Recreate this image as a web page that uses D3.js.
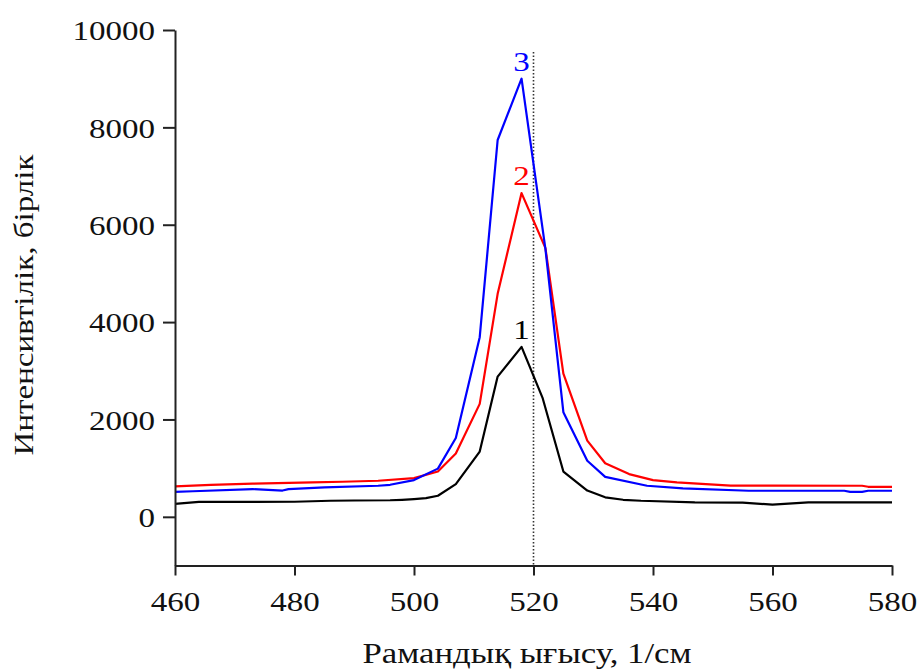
<!DOCTYPE html>
<html>
<head>
<meta charset="utf-8">
<script src="https://cdn.jsdelivr.net/npm/d3@7/dist/d3.min.js"></script>
<style>
html,body{margin:0;padding:0;background:#fff;}
text{font-family:"Liberation Serif","Times New Roman",serif;}
</style>
</head>
<body>
<svg id="chart" width="921" height="670"></svg>
<script>
// ---- data ----
const xTicksMajor = [460, 480, 500, 520, 540, 560, 580];
const yTicksMajor = [0, 2000, 4000, 6000, 8000, 10000];
const xLabel = "Рамандық ығысу, 1/см";
const yLabel = "Интенсивтілік, бірлік";
const refLine = 520;

const s1x = [460,464,470,480,486,490,496,498,500,502,504,507,511,514,518,521.5,525,529,532,535,538,547,555,560,566,580];
const s1y = [265,305,305,310,330,335,340,350,365,385,432,673,1340,2880,3490,2450,930,540,400,350,330,295,290,250,295,295];

const s2x = [460,466,473,483,488,494,500,504,507,511,514,518,522,525,529,532,536,540,544,553,560,575,576,580];
const s2y = [624,658,680,706,720,741,796,930,1300,2320,4580,6650,5520,2940,1564,1100,878,755,706,640,640,638,617,617];

const s3x = [460,463,473,478,479,485,494,496,500,504,507,511,514,518,522,525,529,532,539,545,556,572,573,575,576,580];
const s3y = [514,525,570,540,570,603,638,658,755,990,1620,3690,7740,9000,5500,2150,1152,820,638,583,535,535,514,514,535,535];

const seriesNames = ["1", "2", "3"];
const seriesColors = ["#000000", "#ff0000", "#0000ff"];

// ---- layout ----
const svg = d3.select("#chart");
const x = d3.scaleLinear().domain([460, 580]).range([175, 892]);
const y = d3.scaleLinear().domain([-1000, 10000]).range([565.5, 30]);
const SX = 1.18;

const series = [
  {name: seriesNames[0], color: seriesColors[0], pts: s1x.map((v,i)=>[v, s1y[i]])},
  {name: seriesNames[1], color: seriesColors[1], pts: s2x.map((v,i)=>[v, s2y[i]])},
  {name: seriesNames[2], color: seriesColors[2], pts: s3x.map((v,i)=>[v, s3y[i]])}
];
const line = d3.line().x(d=>x(d[0])).y(d=>y(d[1]));

// reference dotted line
svg.append("line")
  .attr("x1", x(refLine)).attr("x2", x(refLine))
  .attr("y1", 52).attr("y2", y(-1000))
  .attr("stroke", "#333").attr("stroke-width", 1.6)
  .attr("stroke-dasharray", "1.5,2");

series.forEach(s => {
  svg.append("path").datum(s.pts)
    .attr("d", line).attr("fill", "none")
    .attr("stroke", s.color).attr("stroke-width", 2.2)
    .attr("stroke-linejoin", "round");
});

// series labels
series.forEach(s => {
  const pk = s.pts.reduce((a,b)=> b[1] > a[1] ? b : a);
  svg.append("text")
    .attr("transform", `translate(${x(pk[0])},${y(pk[1]) - 8}) scale(${SX},1)`)
    .attr("text-anchor", "middle")
    .attr("font-size", 28)
    .attr("fill", s.color)
    .text(s.name);
});

// axes
const xMinor = d3.range(470, 580, 20);
const yMinor = d3.range(1000, 10000, 2000);

const gx = svg.append("g").attr("transform", `translate(0,${y(-1000)})`);
gx.call(d3.axisBottom(x).tickValues(xMinor).tickSize(7).tickFormat(""));
gx.call(d3.axisBottom(x).tickValues(xTicksMajor).tickSize(10).tickSizeOuter(0).tickFormat(d3.format("d")));
gx.selectAll("path.domain").attr("stroke", "#222").attr("stroke-width", 2);
gx.selectAll("line").attr("stroke", "#222").attr("stroke-width", 2);
gx.selectAll("text")
  .attr("y", 46).attr("dy", null)
  .attr("transform", `scale(${SX},1)`)
  .attr("font-size", 28).attr("fill", "#111")
  .attr("font-family", "Liberation Serif, Times New Roman, serif");

const gy = svg.append("g").attr("transform", `translate(${x(460)},0)`);
gy.call(d3.axisLeft(y).tickValues(yMinor).tickSize(6).tickFormat(""));
gy.call(d3.axisLeft(y).tickValues(yTicksMajor).tickSize(12).tickSizeOuter(0).tickFormat(d3.format("d")));
gy.selectAll("path.domain").attr("stroke", "#222").attr("stroke-width", 2);
gy.selectAll("line").attr("stroke", "#222").attr("stroke-width", 2);
gy.selectAll("text")
  .attr("x", -20 / SX).attr("dy", "0.35em")
  .attr("transform", `scale(${SX},1)`)
  .attr("font-size", 28).attr("fill", "#111")
  .attr("font-family", "Liberation Serif, Times New Roman, serif");

// axis titles
svg.append("text")
  .attr("transform", `translate(527,663) scale(1.2,1)`)
  .attr("text-anchor", "middle")
  .attr("font-size", 29).attr("fill", "#111")
  .text(xLabel);

svg.append("text")
  .attr("transform", `translate(33,305) rotate(-90) scale(${SX},1)`)
  .attr("text-anchor", "middle")
  .attr("font-size", 28).attr("fill", "#111")
  .text(yLabel);
</script>
</body>
</html>
